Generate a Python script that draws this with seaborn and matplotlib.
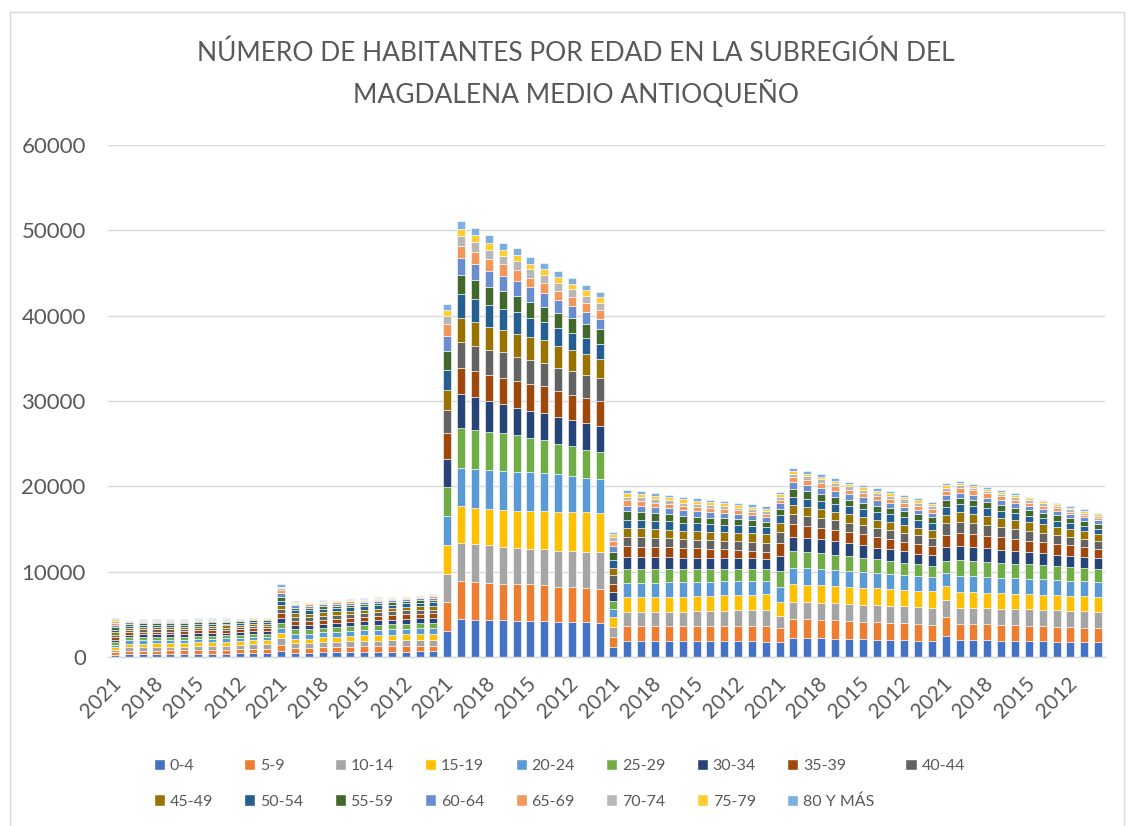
import numpy as np
import pandas as pd
import seaborn as sns
import matplotlib.pyplot as plt
import matplotlib.transforms as mtransforms
from matplotlib.patches import Patch, Rectangle

# Datos: habitantes por grupo de edad, municipio y año
years = [2021, 2020, 2019, 2018, 2017, 2016, 2015, 2014, 2013, 2012, 2011, 2010]
age_groups = ['0-4', '5-9', '10-14', '15-19', '20-24', '25-29', '30-34', '35-39', '40-44',
              '45-49', '50-54', '55-59', '60-64', '65-69', '70-74', '75-79', '80 Y MÁS']
municipios = ['Caracolí', 'Maceo', 'Puerto Berrío', 'Puerto Nare', 'Puerto Triunfo', 'Yondó']

caracoli = [
    [250, 290, 300, 290, 300, 300, 290, 300, 300, 300, 290, 300, 280, 250, 200, 170, 150],
    [340, 400, 390, 420, 400, 370, 310, 290, 270, 250, 240, 210, 165, 125, 90, 65, 55],
    [345, 405, 400, 425, 405, 370, 315, 295, 270, 255, 240, 210, 160, 120, 90, 65, 55],
    [350, 410, 405, 425, 400, 365, 315, 295, 275, 255, 235, 205, 160, 120, 85, 65, 55],
    [355, 415, 415, 420, 395, 360, 315, 300, 275, 255, 230, 200, 155, 115, 85, 65, 50],
    [360, 420, 425, 420, 390, 355, 320, 300, 280, 255, 225, 195, 155, 115, 85, 60, 50],
    [410, 430, 470, 455, 390, 355, 325, 305, 285, 255, 225, 195, 150, 115, 80, 60, 50],
    [405, 440, 475, 455, 385, 350, 330, 305, 285, 255, 220, 190, 150, 110, 80, 60, 50],
    [410, 450, 480, 450, 385, 350, 330, 310, 285, 255, 220, 190, 145, 110, 80, 55, 50],
    [415, 500, 505, 450, 385, 350, 335, 310, 285, 250, 215, 185, 145, 110, 80, 55, 45],
    [450, 520, 520, 455, 390, 355, 340, 315, 285, 250, 215, 185, 140, 105, 75, 55, 45],
    [445, 525, 530, 460, 390, 355, 345, 315, 285, 250, 210, 180, 140, 105, 75, 55, 45],
]
maceo = [
    [750, 700, 800, 600, 600, 550, 550, 600, 500, 450, 450, 450, 450, 350, 250, 200, 250],
    [500, 600, 500, 500, 600, 600, 450, 450, 500, 400, 400, 300, 250, 200, 100, 100, 100],
    [510, 590, 520, 520, 590, 570, 450, 450, 480, 400, 390, 300, 240, 190, 110, 100, 90],
    [560, 600, 590, 540, 590, 560, 470, 460, 470, 410, 390, 290, 240, 180, 110, 100, 90],
    [570, 610, 610, 570, 590, 560, 480, 470, 460, 420, 390, 290, 230, 175, 110, 95, 90],
    [590, 620, 640, 600, 590, 560, 490, 480, 450, 420, 385, 285, 225, 170, 105, 95, 85],
    [610, 630, 660, 630, 600, 565, 500, 490, 450, 420, 380, 280, 220, 165, 105, 90, 80],
    [620, 640, 670, 650, 620, 575, 520, 500, 450, 430, 375, 280, 220, 160, 100, 90, 75],
    [630, 645, 680, 670, 630, 585, 540, 510, 450, 440, 370, 280, 215, 155, 100, 85, 70],
    [640, 650, 690, 690, 645, 595, 560, 530, 455, 445, 385, 290, 240, 150, 100, 80, 60],
    [645, 650, 700, 700, 650, 600, 580, 545, 455, 450, 390, 295, 245, 145, 100, 75, 55],
    [650, 650, 700, 700, 650, 600, 600, 550, 450, 450, 400, 300, 250, 150, 100, 100, 50],
]
puerto_berrio = [
    [3100, 3300, 3300, 3400, 3400, 3400, 3300, 3100, 2700, 2300, 2300, 2200, 1800, 1400, 1000, 700, 700],
    [4400, 4500, 4500, 4300, 4500, 4600, 4000, 3100, 3000, 2800, 2800, 2300, 1900, 1500, 1100, 900, 900],
    [4300, 4500, 4400, 4300, 4500, 4600, 3900, 3000, 3000, 2800, 2700, 2200, 1800, 1500, 1100, 800, 900],
    [4300, 4400, 4400, 4200, 4600, 4500, 3600, 3100, 2900, 2700, 2600, 2100, 1800, 1400, 1100, 800, 900],
    [4300, 4300, 4300, 4300, 4600, 4400, 3400, 3100, 3000, 2600, 2500, 2100, 1700, 1400, 1000, 700, 800],
    [4250, 4300, 4250, 4300, 4600, 4300, 3200, 3200, 2800, 2700, 2500, 1900, 1800, 1200, 1050, 800, 750],
    [4250, 4250, 4150, 4400, 4600, 4000, 3200, 3100, 2850, 2650, 2300, 1900, 1650, 1150, 1000, 650, 750],
    [4200, 4200, 4200, 4500, 4500, 3800, 3200, 3100, 2800, 2600, 2200, 1750, 1550, 1200, 950, 700, 700],
    [4150, 4100, 4200, 4550, 4400, 3600, 3100, 3050, 2750, 2550, 2100, 1750, 1500, 1100, 950, 700, 650],
    [4100, 4050, 4250, 4600, 4200, 3500, 3100, 2950, 2750, 2450, 2000, 1750, 1400, 1050, 1000, 600, 650],
    [4050, 4050, 4250, 4650, 4000, 3300, 3100, 2950, 2700, 2400, 1900, 1700, 1350, 1050, 900, 600, 600],
    [4000, 4000, 4300, 4600, 3900, 3200, 3100, 2900, 2700, 2200, 1800, 1700, 1250, 1000, 800, 700, 600],
]
puerto_nare = [
    [1150, 1200, 1200, 1150, 900, 1000, 1000, 1000, 1000, 850, 950, 850, 800, 600, 450, 300, 300],
    [1900, 1750, 1650, 1700, 1700, 1600, 1450, 1200, 1150, 1000, 1000, 950, 700, 600, 450, 400, 350],
    [1900, 1750, 1650, 1720, 1700, 1600, 1420, 1200, 1130, 1000, 1000, 920, 700, 580, 430, 380, 320],
    [1890, 1740, 1660, 1730, 1700, 1580, 1400, 1180, 1100, 1000, 980, 880, 700, 550, 420, 360, 310],
    [1900, 1720, 1680, 1740, 1700, 1570, 1380, 1160, 1060, 1000, 970, 850, 700, 500, 410, 380, 300],
    [1900, 1700, 1700, 1750, 1700, 1550, 1350, 1150, 1000, 1000, 950, 800, 700, 450, 400, 400, 300],
    [1890, 1710, 1740, 1760, 1690, 1520, 1320, 1100, 1010, 990, 930, 780, 670, 440, 380, 370, 290],
    [1870, 1730, 1780, 1770, 1680, 1480, 1300, 1050, 1020, 1000, 900, 760, 650, 440, 360, 350, 280],
    [1860, 1750, 1820, 1780, 1670, 1450, 1280, 1000, 1030, 1000, 880, 740, 620, 430, 350, 340, 280],
    [1840, 1770, 1860, 1790, 1650, 1420, 1260, 950, 1040, 1000, 860, 710, 600, 420, 330, 320, 270],
    [1820, 1790, 1900, 1800, 1630, 1390, 1230, 900, 1050, 1000, 830, 680, 580, 410, 310, 310, 260],
    [1800, 1800, 1950, 1800, 1600, 1350, 1200, 850, 1050, 1000, 800, 650, 550, 400, 300, 300, 250],
]
puerto_triunfo = [
    [1700, 1650, 1500, 1550, 1850, 1850, 1700, 1550, 1350, 1050, 850, 800, 600, 450, 350, 250, 250],
    [2250, 2250, 1950, 2050, 1950, 2000, 1650, 1450, 1200, 1050, 1000, 900, 750, 600, 450, 300, 350],
    [2230, 2220, 1960, 2050, 1930, 1950, 1620, 1420, 1180, 1030, 980, 880, 730, 580, 430, 290, 320],
    [2200, 2180, 1970, 2040, 1910, 1900, 1580, 1390, 1160, 1010, 960, 850, 710, 560, 410, 280, 300],
    [2160, 2140, 1980, 2030, 1880, 1820, 1530, 1350, 1140, 990, 940, 820, 690, 540, 390, 280, 290],
    [2120, 2100, 1990, 2010, 1860, 1750, 1480, 1320, 1120, 980, 920, 790, 660, 520, 380, 270, 280],
    [2080, 2060, 2000, 1990, 1830, 1680, 1440, 1280, 1100, 970, 910, 760, 630, 510, 370, 270, 270],
    [2040, 2020, 2000, 1970, 1800, 1610, 1390, 1240, 1080, 960, 900, 740, 600, 500, 400, 260, 260],
    [2000, 1990, 2000, 1950, 1780, 1540, 1350, 1200, 1060, 950, 890, 720, 580, 490, 400, 260, 260],
    [1970, 1960, 2000, 1930, 1750, 1460, 1300, 1150, 1040, 930, 880, 700, 560, 470, 400, 260, 250],
    [1930, 1930, 2000, 1910, 1720, 1380, 1250, 1100, 1020, 920, 860, 680, 530, 460, 400, 250, 250],
    [1900, 1900, 2000, 1900, 1700, 1300, 1200, 1050, 1000, 900, 850, 650, 500, 450, 400, 250, 250],
]
yondo = [
    [2450, 2250, 1950, 1650, 1500, 1500, 1550, 1500, 1350, 950, 900, 800, 600, 500, 350, 300, 300],
    [2000, 1900, 1900, 1850, 1850, 1850, 1650, 1550, 1300, 1150, 900, 750, 600, 550, 300, 300, 200],
    [1980, 1880, 1910, 1840, 1840, 1820, 1620, 1520, 1280, 1120, 880, 730, 580, 520, 290, 280, 190],
    [1950, 1860, 1910, 1830, 1830, 1780, 1580, 1480, 1250, 1090, 850, 710, 560, 490, 280, 270, 190],
    [1920, 1840, 1910, 1820, 1820, 1740, 1540, 1440, 1210, 1060, 820, 690, 540, 460, 280, 260, 180],
    [1890, 1820, 1910, 1810, 1810, 1700, 1500, 1400, 1170, 1030, 790, 670, 520, 430, 280, 250, 180],
    [1860, 1800, 1910, 1800, 1800, 1670, 1450, 1360, 1130, 1000, 760, 650, 500, 400, 270, 240, 170],
    [1830, 1780, 1910, 1790, 1790, 1640, 1410, 1320, 1090, 970, 730, 630, 480, 380, 270, 230, 170],
    [1800, 1760, 1910, 1780, 1780, 1610, 1370, 1280, 1050, 940, 700, 610, 460, 360, 260, 220, 160],
    [1770, 1740, 1900, 1770, 1770, 1570, 1330, 1240, 1000, 910, 670, 590, 440, 340, 260, 210, 160],
    [1730, 1720, 1900, 1760, 1760, 1540, 1290, 1200, 950, 880, 640, 570, 420, 320, 250, 210, 150],
    [1700, 1700, 1900, 1750, 1750, 1500, 1250, 1150, 900, 850, 600, 550, 400, 300, 250, 200, 150],
]

colors = ['#4472C4', '#ED7D31', '#A5A5A5', '#FFC000', '#5B9BD5', '#70AD47', '#264478',
          '#9E480E', '#636363', '#997300', '#255E91', '#43682B', '#698ED0', '#F1975A',
          '#B7B7B7', '#FFCD33', '#7CAFDD']

# tabla larga para seaborn
rows = []
tablas = [caracoli, maceo, puerto_berrio, puerto_nare, puerto_triunfo, yondo]
for i, (mun, tabla) in enumerate(zip(municipios, tablas)):
    for j, (year, valores) in enumerate(zip(years, tabla)):
        for edad, v in zip(age_groups, valores):
            rows.append({'municipio': mun, 'anio': year, 'pos': i * len(years) + j,
                         'edad': edad, 'poblacion': v})
df = pd.DataFrame(rows)

sns.set_theme(style='white')
plt.rcParams['font.family'] = ['Lato', 'DejaVu Sans']
gris = '#595959'

fig = plt.figure(figsize=(11.3, 8.26), dpi=100)
ax = fig.add_axes([0.0956, 0.2046, 0.8823, 0.6199])

# seaborn apila el primer nivel arriba, por eso se invierte el orden
sns.histplot(data=df, x='pos', weights='poblacion', hue='edad',
             hue_order=age_groups[::-1], palette=colors[::-1],
             multiple='stack', discrete=True, shrink=0.58, alpha=1,
             edgecolor='white', linewidth=0.4, legend=False, ax=ax)

n = len(municipios) * len(years)
ax.set_xlim(-0.5, n - 0.5)
ax.set_ylim(0, 60000)
ax.set_yticks(range(0, 60001, 10000))
ax.set_xlabel('')
ax.set_ylabel('')
ax.yaxis.grid(True, color='#d9d9d9', linewidth=1)
ax.set_axisbelow(True)
for s in ['left', 'top', 'right']:
    ax.spines[s].set_visible(False)
ax.spines['bottom'].set_color('#d9d9d9')
ax.spines['bottom'].set_linewidth(1)

tick_pos = [p for p in range(n) if p % 3 == 0]
ax.set_xticks(tick_pos)
ax.set_xticklabels([str(years[p % len(years)]) for p in tick_pos], rotation=45,
                   ha='center', va='top')
ax.tick_params(axis='x', length=0, pad=12, labelsize=15, labelcolor=gris)
ax.tick_params(axis='y', length=0, pad=16, labelsize=16, labelcolor=gris)
offset = mtransforms.ScaledTranslation(-14 / 100, 0, fig.dpi_scale_trans)
for lab in ax.get_xticklabels():
    lab.set_transform(lab.get_transform() + offset)

fig.text(0.51, 0.91, 'NÚMERO DE HABITANTES POR EDAD EN LA SUBREGIÓN DEL\nMAGDALENA MEDIO ANTIOQUEÑO',
         ha='center', va='center', fontsize=19, color=gris, linespacing=1.6)

# leyenda en filas como en Excel
handles = [Patch(facecolor=c, label=a) for a, c in zip(age_groups, colors)]
order = []
for j in range(8):
    order += [j, j + 9]
order.append(8)
leg = fig.legend([handles[k] for k in order], [age_groups[k] for k in order],
                 loc='center', bbox_to_anchor=(0.495, 0.051), ncol=9, frameon=False,
                 fontsize=11.5, handlelength=0.7, handleheight=0.7, handletextpad=0.3,
                 columnspacing=1.95, labelspacing=1.35)
for t in leg.get_texts():
    t.set_color(gris)

fig.add_artist(Rectangle((0.009, -0.01), 0.986, 0.995, transform=fig.transFigure,
                         fill=False, edgecolor='#d9d9d9', linewidth=1))

fig.savefig('out.png', dpi=100)
